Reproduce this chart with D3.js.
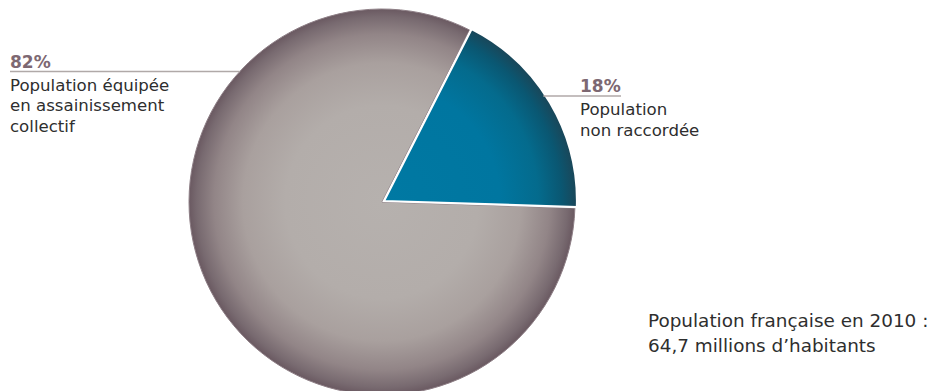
<!DOCTYPE html>
<html lang="fr">
<head>
<meta charset="utf-8">
<script src="https://cdn.jsdelivr.net/npm/d3@7"></script>
<style>
  html, body { margin: 0; padding: 0; background: #fff; }
  svg { display: block; font-family: "DejaVu Sans", "Liberation Sans", Arial, sans-serif; }
</style>
</head>
<body>
<svg id="chart" width="940" height="391"></svg>
<script>
// Share of the population by sanitation connection
const categories = ["Population non raccordée", "Population équipée en assainissement collectif"];
const shares = [18, 82];
const pctLabels = ["18%", "82%"];
const labelLines = [["Population", "non raccordée"], ["Population équipée", "en assainissement", "collectif"]];
const noteLines = ["Population française en 2010 :", "64,7 millions d’habitants"];

const svg = d3.select("#chart");
const cx = 382, cy = 202, radius = 193;

// radial shading, expressed in the pie group's own coordinates (centre at 0,0)
const defs = svg.append("defs");
const grayGrad = defs.append("radialGradient").attr("id", "gGray")
  .attr("gradientUnits", "userSpaceOnUse").attr("cx", 0).attr("cy", 0).attr("r", radius);
[[0, "#b6b1ae"], [0.5, "#b3adaa"], [0.72, "#a9a09e"], [0.87, "#928587"], [0.96, "#786a70"], [1, "#6a5961"]]
  .forEach(([o, c]) => grayGrad.append("stop").attr("offset", o).attr("stop-color", c));
const blueGrad = defs.append("radialGradient").attr("id", "gBlue")
  .attr("gradientUnits", "userSpaceOnUse").attr("cx", 0).attr("cy", 0).attr("r", radius);
[[0, "#0079a3"], [0.6, "#0076a0"], [0.8, "#046b8d"], [0.92, "#0a5772"], [1, "#1a4658"]]
  .forEach(([o, c]) => blueGrad.append("stop").attr("offset", o).attr("stop-color", c));

const fills = ["url(#gBlue)", "url(#gGray)"];
const startDeg = 27;
const pie = d3.pie().sort(null).value(d => d)
  .startAngle(startDeg * Math.PI / 180)
  .endAngle(startDeg * Math.PI / 180 + 2 * Math.PI);
const arcs = pie(shares);
const arc = d3.arc().innerRadius(0).outerRadius(radius);

const g = svg.append("g").attr("transform", `translate(${cx},${cy})`);
// larger share underneath, smaller one on top with a white edge
g.append("path").datum(arcs[1]).attr("d", arc)
  .attr("fill", fills[1]).attr("stroke", "#8e7f86").attr("stroke-width", 1);
g.append("path").datum(arcs[0]).attr("d", arc)
  .attr("transform", "translate(2,-1)")
  .attr("fill", fills[0]).attr("stroke", "#ffffff").attr("stroke-width", 2.2)
  .attr("stroke-linejoin", "miter");

// callout labels: leader rule from the pie edge, percent above, text below
function edgeX(y, side) {
  const dy = y - cy;
  return cx + side * Math.sqrt(radius * radius - dy * dy);
}
const callouts = [
  { i: 0, x: 580, ruleY: 96, ruleEnd: 621, side: 1 },
  { i: 1, x: 10, ruleY: 71.5, ruleEnd: null, side: -1 }
];
callouts.forEach(c => {
  const x1 = c.side > 0 ? edgeX(c.ruleY, 1) : c.x;
  const x2 = c.side > 0 ? c.ruleEnd : edgeX(c.ruleY, -1);
  svg.append("line").attr("x1", x1).attr("x2", x2)
    .attr("y1", c.ruleY).attr("y2", c.ruleY)
    .attr("stroke", "#b0a9a8").attr("stroke-width", 1.5);
  svg.append("text").attr("x", c.x).attr("y", c.ruleY - 4)
    .attr("font-size", 17).attr("font-weight", "bold").attr("fill", "#7d6872")
    .text(pctLabels[c.i]);
  labelLines[c.i].forEach((t, k) => {
    svg.append("text").attr("x", c.x).attr("y", c.ruleY + 19 + k * 20.5)
      .attr("font-size", 16.6).attr("fill", "#2e2e2e")
      .text(t);
  });
});

noteLines.forEach((t, k) => {
  svg.append("text").attr("x", 648).attr("y", 327 + k * 25)
    .attr("font-size", 18.4).attr("fill", "#2e2e2e")
    .text(t);
});
</script>
</body>
</html>
